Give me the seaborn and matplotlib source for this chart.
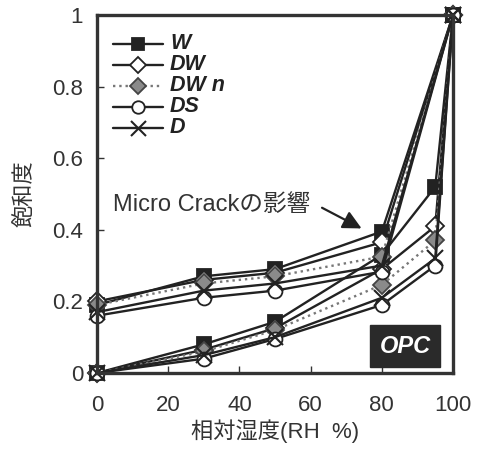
import pandas as pd
import seaborn as sns
import matplotlib.pyplot as plt

# relative humidity points
rh_desorp = [0, 30, 50, 80, 100]
rh_adsorp = [0, 30, 50, 80, 95, 100]

# desorption branch (upper)
w_des = [0.19, 0.27, 0.29, 0.395, 1.0]
dw_des = [0.20, 0.26, 0.28, 0.365, 1.0]
dwn_des = [0.19, 0.25, 0.27, 0.325, 1.0]
ds_des = [0.16, 0.21, 0.23, 0.283, 1.0]
d_des = [0.17, 0.23, 0.25, 0.30, 1.0]

# adsorption branch (lower)
w_ads = [0.0, 0.08, 0.143, 0.33, 0.52, 1.0]
dw_ads = [0.0, 0.065, 0.125, 0.29, 0.41, 1.0]
dwn_ads = [0.0, 0.06, 0.12, 0.246, 0.37, 1.0]
ds_ads = [0.0, 0.04, 0.095, 0.19, 0.30, 1.0]
d_ads = [0.0, 0.05, 0.10, 0.21, 0.32, 1.0]

labels = ['W', 'DW', 'DW n', 'DS', 'D']

sns.set_style('ticks')
plt.rcParams['font.family'] = ['Liberation Sans', 'Noto Sans CJK JP']

fig = plt.figure(figsize=(4.83, 4.51), dpi=100)
ax = fig.add_axes([0.201, 0.173, 0.737, 0.794])

styles = {
    'W': dict(marker='s', mfc='#222222', mec='#222222', ms=10, ls='-', color='#222222'),
    'DW': dict(marker='D', mfc='white', mec='#222222', ms=9, ls='-', color='#222222'),
    'DW n': dict(marker='D', mfc='#8a8a8a', mec='#444444', ms=9, ls=':', color='#777777'),
    'DS': dict(marker='o', mfc='white', mec='#222222', ms=10, ls='-', color='#222222'),
    'D': dict(marker='x', mfc='none', mec='#222222', ms=12, ls='-', color='#222222', mew=1.5),
}

series = {
    'W': (w_des, w_ads),
    'DW': (dw_des, dw_ads),
    'DW n': (dwn_des, dwn_ads),
    'DS': (ds_des, ds_ads),
    'D': (d_des, d_ads),
}

for name in labels:
    des, ads = series[name]
    st = dict(styles[name])
    color = st.pop('color')
    ls = st.pop('ls')
    mew = st.pop('mew', 1.3)
    df_des = pd.DataFrame({'x': rh_desorp, 'y': des})
    df_ads = pd.DataFrame({'x': rh_adsorp, 'y': ads})
    sns.lineplot(data=df_des, x='x', y='y', ax=ax, color=color, linestyle=ls,
                 lw=1.7, mew=mew, sort=False, estimator=None, label=name,
                 clip_on=False, **st)
    sns.lineplot(data=df_ads, x='x', y='y', ax=ax, color=color, linestyle=ls,
                 lw=1.7, mew=mew, sort=False, estimator=None, legend=False,
                 clip_on=False, **st)

ax.set_xlim(0, 100)
ax.set_ylim(0, 1)
ax.set_xticks([0, 20, 40, 60, 80, 100])
ax.set_yticks([0, 0.2, 0.4, 0.6, 0.8, 1])
ax.set_yticklabels(['0', '0.2', '0.4', '0.6', '0.8', '1'])
ax.tick_params(direction='in', length=5, width=1, colors='#333333',
               labelsize=16, labelcolor='#333333')
ax.tick_params(axis='x', pad=16)
ax.tick_params(axis='y', pad=10)
for sp in ax.spines.values():
    sp.set_visible(True)
    sp.set_linewidth(2.4)
    sp.set_color('#333333')

ax.set_xlabel('相対湿度(RH  %)', fontsize=16, color='#333333', labelpad=2)
ax.set_ylabel('飽和度', fontsize=16, color='#333333', labelpad=12)

leg = ax.legend(loc='upper left', bbox_to_anchor=(0.01, 0.985), frameon=False,
                handlelength=3.6, labelspacing=0.0, handletextpad=0.5,
                borderaxespad=0.5, markerscale=0.9)
for t in leg.get_texts():
    t.set_fontsize(15.5)
    t.set_fontweight('bold')
    t.set_fontstyle('italic')
    t.set_color('#222222')

ax.annotate('', xy=(75, 0.40), xytext=(62.5, 0.465),
            arrowprops=dict(arrowstyle='-|>', color='#222222', lw=1.6,
                            mutation_scale=28))
ax.text(4.5, 0.47, 'Micro Crackの影響', fontsize=17, color='#333333',
        va='center', ha='left')

ax.text(86.5, 0.075, 'OPC', fontsize=17, color='white', fontweight='bold',
        fontstyle='italic', ha='center', va='center',
        bbox=dict(boxstyle='square,pad=0.4', fc='#2a2a2a', ec='#2a2a2a'))

fig.savefig('out.png', dpi=100)
